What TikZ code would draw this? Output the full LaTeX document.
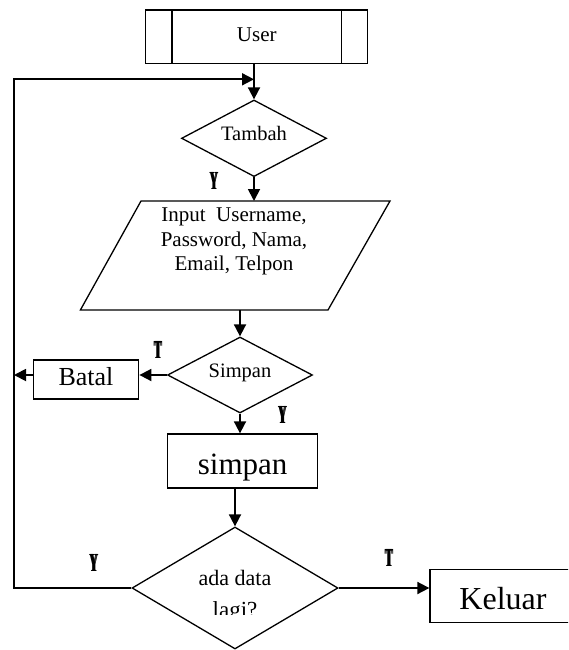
\documentclass[tikz,border=0pt]{standalone}
\usepackage{fontspec}
\setmainfont{Liberation Serif}
\usepackage{graphicx}
\usetikzlibrary{arrows.meta,shapes.geometric}
\newcommand{\flowlbl}[1]{\scalebox{0.42}[1]{\fontsize{26}{26}\selectfont\bfseries\rlap{#1}\kern1.6pt\rlap{#1}\kern1.6pt#1}}
\tikzset{
  shapeline/.style={line width=1.3pt},
  box/.style={draw, shapeline, rectangle, inner sep=0pt},
  decision/.style={draw, shapeline, diamond, inner sep=0pt},
  conn/.style={line width=1.8pt, -{Triangle[length=12pt,width=12pt]}},
  txt/.style={inner sep=0pt, anchor=base},
  yt/.style={inner sep=0pt}
}
\begin{document}
\begin{tikzpicture}[x=1pt,y=-1pt]
\useasboundingbox (0,0) rectangle (568,650);
\clip (0,0) rectangle (568,650);

% User (predefined process)
\node[box, minimum width=222.1pt, minimum height=53.3pt] (user) at (256.75,36.65) {};
\draw[shapeline] ([xshift=26.8pt]user.north west) -- ([xshift=26.8pt]user.south west);
\draw[shapeline] ([xshift=-26.8pt]user.north east) -- ([xshift=-26.8pt]user.south east);
\node[txt, font=\fontsize{21}{24}\selectfont] (usert) at (256.75,41.7) {User};

% Tambah
\node[decision, minimum width=145pt, minimum height=76.6pt] (tambah) at (254,138.3) {};
\node[txt, font=\fontsize{20.5}{24}\selectfont] (tambaht) at (254,140) {Tambah};
\coordinate (loopin) at (254,79.3);
\draw[conn] (user.south -| tambah.north) -- (tambah.north);

% Input parallelogram
\coordinate (innw) at (141,201);
\coordinate (inne) at (390,201);
\coordinate (inse) at (328,310);
\coordinate (insw) at (80.4,310);
\coordinate (inout) at (240,310);
\draw[shapeline] (innw) -- (inne) -- (inse) -- (insw) -- cycle;
\node[txt, font=\fontsize{21}{24}\selectfont] (inputa) at (234,221.7) {Input\ \ Username,};
\node[txt, font=\fontsize{21}{24}\selectfont] (inputb) at (234,246.2) {Password, Nama,};
\node[txt, font=\fontsize{21}{24}\selectfont] (inputc) at (234,270.7) {Email, Telpon};
\draw[conn] (tambah.south) -- (tambah.south |- innw);

% Simpan decision
\node[decision, minimum width=145pt, minimum height=76pt] (simpan) at (240,375) {};
\node[txt, font=\fontsize{20.5}{24}\selectfont] (simpant) at (240,377.3) {Simpan};
\draw[conn] (inout) -- (simpan.north);

% Batal
\coordinate (lx) at (14,0);
\node[box, minimum width=105.5pt, minimum height=39pt] (batal) at (86,379.5) {};
\node[txt, font=\fontsize{26}{30}\selectfont] (batalt) at (86,385.7) {Batal};
\draw[conn] (simpan.west) -- (simpan.west -| batal.east);
\draw[conn] (simpan.west -| batal.west) -- (simpan.west -| lx);

% simpan process
\node[box, minimum width=150.4pt, minimum height=54pt] (proc) at (242.6,461) {};
\node[txt, font=\fontsize{31}{36}\selectfont] (proct) at (242.6,474) {simpan};
\draw[conn] (simpan.south) -- (simpan.south |- proc.north);

% ada data lagi? decision
\node[decision, minimum width=206pt, minimum height=122pt] (lagi) at (235,588) {};
\node[txt, font=\fontsize{22}{26}\selectfont] (lagia) at (235,585) {ada data};
\begin{scope}
\clip (150,590) rectangle (320,614);
\node[txt, font=\fontsize{23}{26}\selectfont] (lagib) at (235,617) {lagi?};
\end{scope}
\draw[conn] (lagi.north |- proc.south) -- (lagi.north);

% Keluar
\node[box, minimum width=146pt, minimum height=53.4pt] (keluar) at (503,596) {};
\node[txt, font=\fontsize{32}{36}\selectfont] (keluart) at (503,609.3) {Keluar};
\draw[conn] (lagi.east) -- (lagi.east -| keluar.west);

% loop back
\draw[conn] (lagi.west) -- (lagi.west -| lx) |- (loopin);

% labels
\node[yt] (ya) at (214,180.5) {\flowlbl{Y}};
\node[yt] (ta) at (158,350) {\flowlbl{T}};
\node[yt] (yb) at (282.6,414.5) {\flowlbl{Y}};
\node[yt] (yc) at (93.8,563) {\flowlbl{Y}};
\node[yt] (tb) at (389,557.5) {\flowlbl{T}};
\end{tikzpicture}
\end{document}
